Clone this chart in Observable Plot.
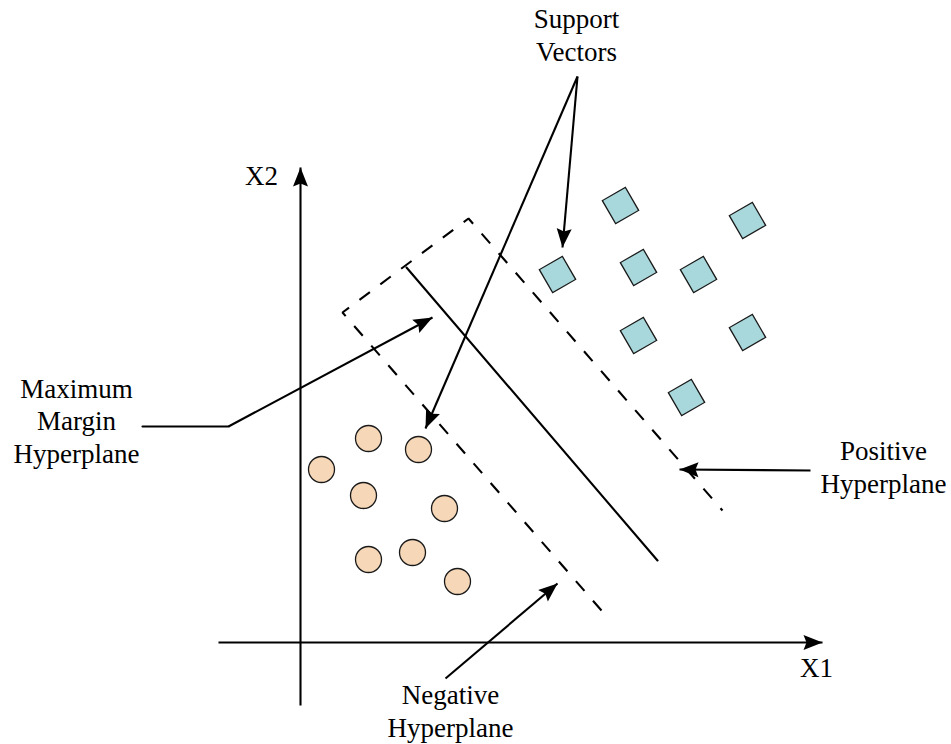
<!DOCTYPE html>
<html>
<head>
<meta charset="utf-8">
<script src="https://cdn.jsdelivr.net/npm/d3@7"></script>
<script src="https://cdn.jsdelivr.net/npm/@observablehq/plot@0.6"></script>
<style>
  html, body { margin: 0; padding: 0; background: #fff; overflow: hidden; }
  #chart svg { display: block; }
</style>
</head>
<body>
<div id="chart"></div>
<script>
// Positive class (diamonds)
const diamondX = [620, 747, 557, 638, 698, 638, 747, 686];
const diamondY = [205, 220, 274, 267, 274, 335, 332, 397];
// Negative class (circles)
const circleX = [368, 418, 321, 363, 444, 368, 412, 457];
const circleY = [438, 449, 469, 495, 508, 559, 552, 581];

// Maximum margin hyperplane (solid)
const hyperX = [406, 657];
const hyperY = [267, 560];
// Negative / positive hyperplanes as one dashed polyline
const marginX = [601, 342, 468, 722];
const marginY = [610, 312, 218, 510];

// Arrows: axes and annotation pointers
const arrowFromX = [218, 300, 577, 577, 228, 810, 445];
const arrowFromY = [642, 705, 76, 76, 426, 470, 678];
const arrowToX   = [822, 300, 562, 425, 432, 679, 557];
const arrowToY   = [642, 167, 247, 428, 317, 469, 583];
// Leader line of "Maximum Margin Hyperplane"
const leaderX = [142, 228];
const leaderY = [426, 426];

// Labels
const labels = ["Support\nVectors", "X2", "Maximum\nMargin\nHyperplane", "Positive\nHyperplane", "Negative\nHyperplane", "X1"];
const labelX = [576, 261, 76, 883, 450, 816];
const labelY = [60, 184, 462, 492, 736, 676];

const diamonds = diamondX.map((x, i) => ({x, y: diamondY[i]}));
const circles = circleX.map((x, i) => ({x, y: circleY[i]}));
const hyper = hyperX.map((x, i) => ({x, y: hyperY[i]}));
const margin = marginX.map((x, i) => ({x, y: marginY[i]}));
const leader = leaderX.map((x, i) => ({x, y: leaderY[i]}));
const arrows = arrowFromX.map((x1, i) => ({x1, y1: arrowFromY[i], x2: arrowToX[i], y2: arrowToY[i]}));
const texts = labels.map((t, i) => ({t, x: labelX[i], y: labelY[i]}));

const arrowHead = {
  draw(ctx) {
    ctx.moveTo(0, 0);
    ctx.lineTo(-7.5, 19);
    ctx.lineTo(0, 16);
    ctx.lineTo(7.5, 19);
    ctx.closePath();
  }
};

const font = "'Liberation Serif', 'Times New Roman', serif";

const chart = Plot.plot({
  width: 951,
  height: 744,
  margin: 0,
  style: {background: "#fff", overflow: "visible"},
  x: {domain: [0, 951], range: [0, 951], axis: null},
  y: {domain: [0, 744], range: [0, 744], axis: null},
  marks: [
    Plot.line(margin, {x: "x", y: "y", stroke: "#000", strokeWidth: 2.1, strokeDasharray: "13,13", strokeLinecap: "butt", strokeLinejoin: "miter"}),
    Plot.line(hyper, {x: "x", y: "y", stroke: "#000", strokeWidth: 2.1}),
    Plot.line(leader, {x: "x", y: "y", stroke: "#000", strokeWidth: 2.1}),
    Plot.link(arrows, {x1: "x1", y1: "y1", x2: "x2", y2: "y2", stroke: "#000", strokeWidth: 2.1}),
    Plot.dot(arrows, {
      x: "x2", y: "y2", symbol: arrowHead, fill: "#000", stroke: "none",
      rotate: d => Math.atan2(d.x2 - d.x1, -(d.y2 - d.y1)) * 180 / Math.PI
    }),
    Plot.dot(diamonds, {x: "x", y: "y", symbol: "square", r: 15, rotate: -30, fill: "#a9d8dc", stroke: "#1a1a1a", strokeWidth: 1.3}),
    Plot.dot(circles, {x: "x", y: "y", r: 13, fill: "#f6d7b7", stroke: "#1a1a1a", strokeWidth: 1.3}),
    Plot.text(texts, {x: "x", y: "y", text: "t", fontSize: 27, fontFamily: font, fill: "#000", textAnchor: "middle", lineAnchor: "bottom", lineHeight: 1.2})
  ]
});
document.getElementById("chart").appendChild(chart);
</script>
</body>
</html>
